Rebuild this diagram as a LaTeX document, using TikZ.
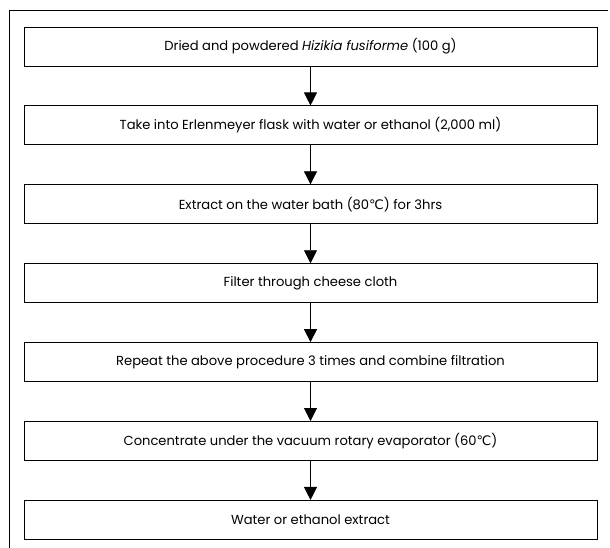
\documentclass[tikz,border=0pt]{standalone}
\usepackage{fontspec}
\setmainfont{Poppins}
\newfontfamily\symfont{DejaVu Sans}
\usetikzlibrary{positioning,arrows.meta}

\begin{document}
\begin{tikzpicture}[x=1pt,y=-1pt,->,>={Triangle[length=13pt,width=13pt]},node distance=39pt,
    step box/.style={draw,line width=0.9pt,minimum width=573pt,minimum height=39pt,inner sep=0pt,font=\fontsize{13.1}{15}\selectfont}]
                \useasboundingbox (0,0) rectangle (610,548);
                \draw[-,line width=0.9pt] (608,10) -- (9,10) -- (9,548);

                \node[step box] (dry) at (310.5,46.5) {Dried and powdered \textit{Hizikia fusiforme} (100 g)};
                \node[step box] (flask) [below=of dry] {Take into Erlenmeyer flask with water or ethanol (2,000 ml)};
                \node[step box] (bath) [below=of flask] {Extract on the water bath (80{\symfont ℃}) for 3hrs};
                \node[step box] (filter) [below=of bath] {Filter through cheese cloth};
                \node[step box] (repeat) [below=of filter] {Repeat the above procedure 3 times and combine filtration};
                \node[step box] (conc) [below=of repeat] {Concentrate under the vacuum rotary evaporator (60{\symfont ℃})};
                \node[step box] (extract) [below=of conc] {Water or ethanol extract};

                \path[line width=0.8pt]
                    (dry) edge (flask)
                    (flask) edge (bath)
                    (bath) edge (filter)
                    (filter) edge (repeat)
                    (repeat) edge (conc)
                    (conc) edge (extract)
                    ;
            \end{tikzpicture}
\end{document}
